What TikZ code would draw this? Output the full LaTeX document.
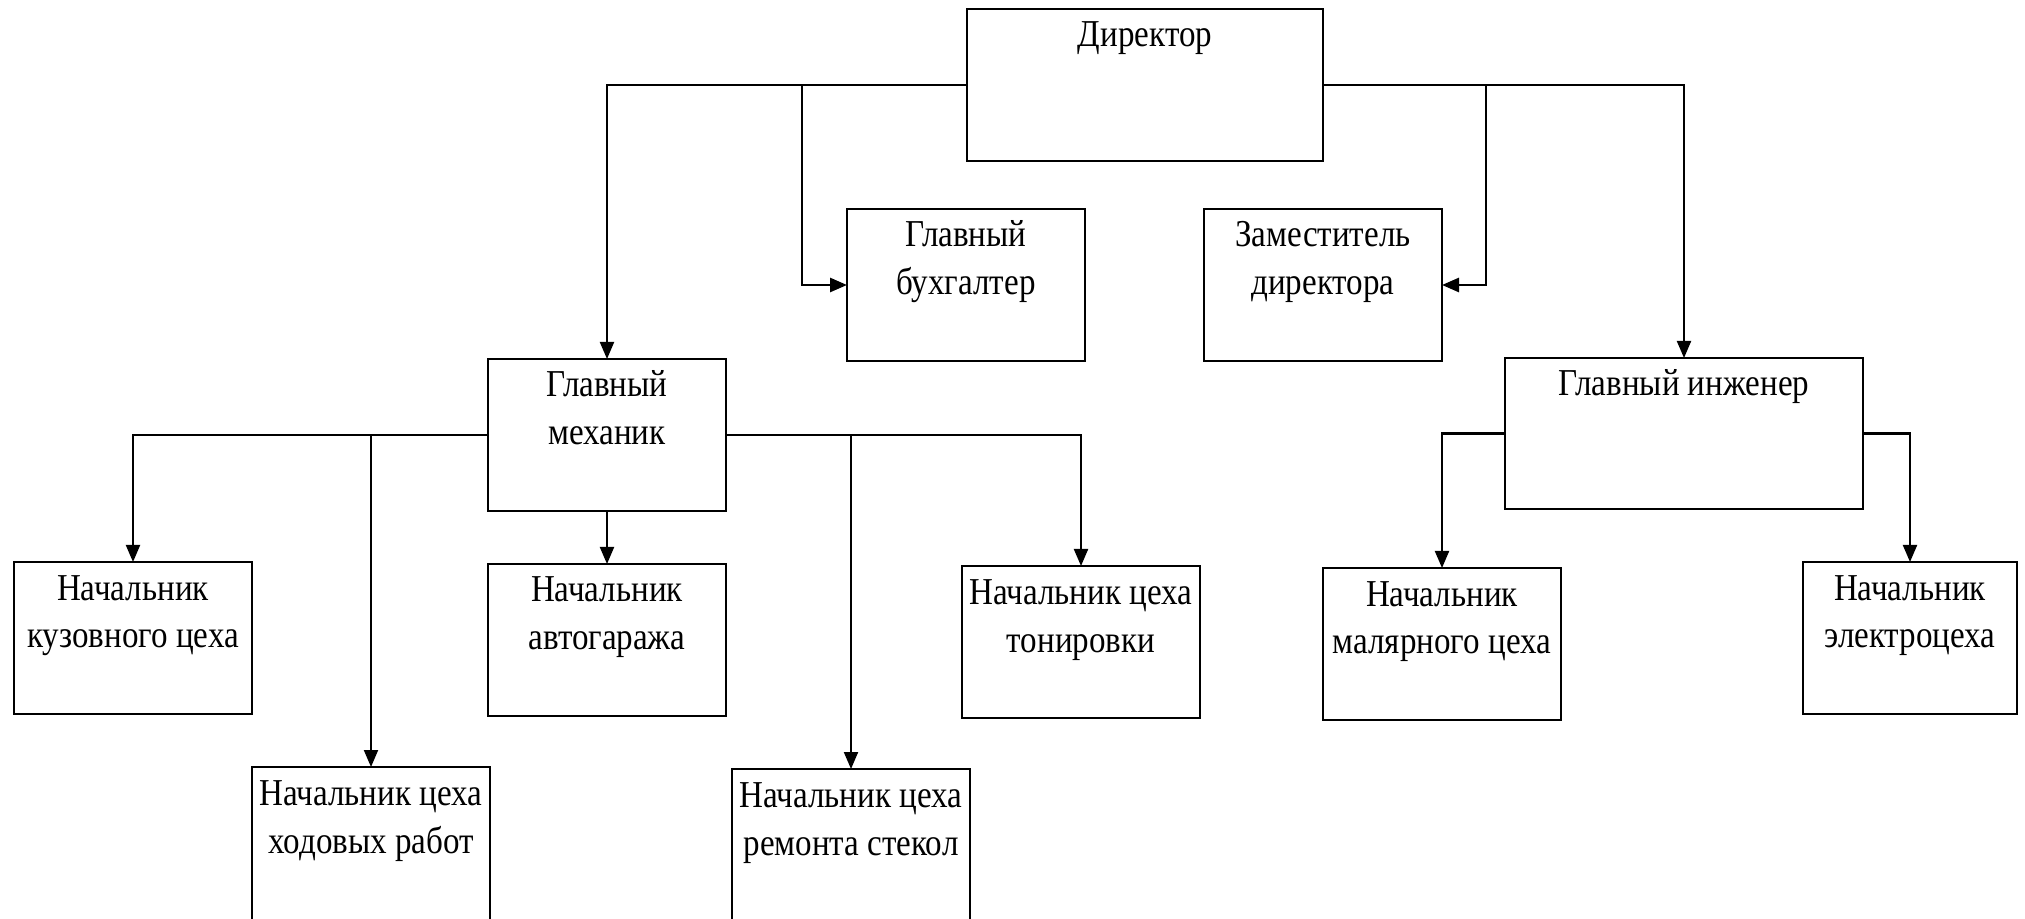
\documentclass[tikz,border=0pt]{standalone}
\usepackage{fontspec}
\setmainfont{Liberation Serif}[FakeStretch=0.87]
\usetikzlibrary{arrows.meta}
\newcommand\orgbox[6]{%
  \node[box] (#1) at (#2,#3)
    {\parbox[t][\dimexpr#5pt/2\relax][t]{\dimexpr#4pt/2\relax}{\centering\rule{0pt}{19pt}#6}};}
\begin{document}
\begin{tikzpicture}[x=0.5pt,y=-0.5pt,
  box/.style={draw, line width=0.85pt, inner sep=0pt, outer sep=0pt, anchor=north west,
    font=\fontsize{19}{24}\selectfont},
  hline/.style={line width=1.35pt, line cap=rect},
  vline/.style={line width=1pt},
  arr/.style={-{Triangle[length=8.5pt,width=7pt]}}]
\clip (0,0) rectangle (2025,919);
% boxes: name, x, y, width, height (px), text
\orgbox{dir}{967}{9}{356}{152}{Директор}
\orgbox{buh}{847}{209}{238}{152}{Главный\\бухгалтер}
\orgbox{zam}{1204}{209}{238}{152}{Заместитель\\директора}
\orgbox{mech}{488}{359}{238}{152}{Главный\\механик}
\orgbox{eng}{1505}{358}{358}{151}{Главный инженер}
\orgbox{kuz}{14}{562}{238}{152}{Начальник\\кузовного цеха}
\orgbox{hod}{252}{767}{238}{156}{Начальник цеха\\ходовых работ}
\orgbox{avto}{488}{564}{238}{152}{Начальник\\автогаража}
\orgbox{ton}{962}{566}{238}{152}{Начальник цеха\\тонировки}
\orgbox{stek}{732}{769}{238}{156}{Начальник цеха\\ремонта стекол}
\orgbox{mal}{1323}{568}{238}{152}{Начальник\\малярного цеха}
\orgbox{el}{1803}{562}{214}{152}{Начальник\\электроцеха}
% branch points
\coordinate (bb) at (802,0);
\coordinate (zb) at (1486,0);
% director
\draw[hline] (dir.west) -- (dir.west -| mech.north);
\draw[vline,arr] (dir.west -| mech.north) -- (mech.north);
\draw[vline] (dir.west -| bb) -- (buh.west -| bb);
\draw[hline,arr] (buh.west -| bb) -- (buh.west);
\draw[hline] (dir.east) -- (dir.east -| eng.north);
\draw[vline,arr] (dir.east -| eng.north) -- (eng.north);
\draw[vline] (dir.east -| zb) -- (zam.east -| zb);
\draw[hline,arr] (zam.east -| zb) -- (zam.east);
% chief mechanic
\draw[hline] (mech.west) -- (mech.west -| kuz.north);
\draw[vline,arr] (mech.west -| kuz.north) -- (kuz.north);
\draw[vline,arr] (mech.west -| hod.north) -- (hod.north);
\draw[vline,arr] (mech.south) -- (avto.north);
\draw[hline] (mech.east) -- (mech.east -| ton.north);
\draw[vline,arr] (mech.east -| ton.north) -- (ton.north);
\draw[vline,arr] (mech.east -| stek.north) -- (stek.north);
% chief engineer
\draw[hline] (eng.west) -- (eng.west -| mal.north);
\draw[vline,arr] (eng.west -| mal.north) -- (mal.north);
\draw[hline] (eng.east) -- (eng.east -| el.north);
\draw[vline,arr] (eng.east -| el.north) -- (el.north);
\end{tikzpicture}
\end{document}
